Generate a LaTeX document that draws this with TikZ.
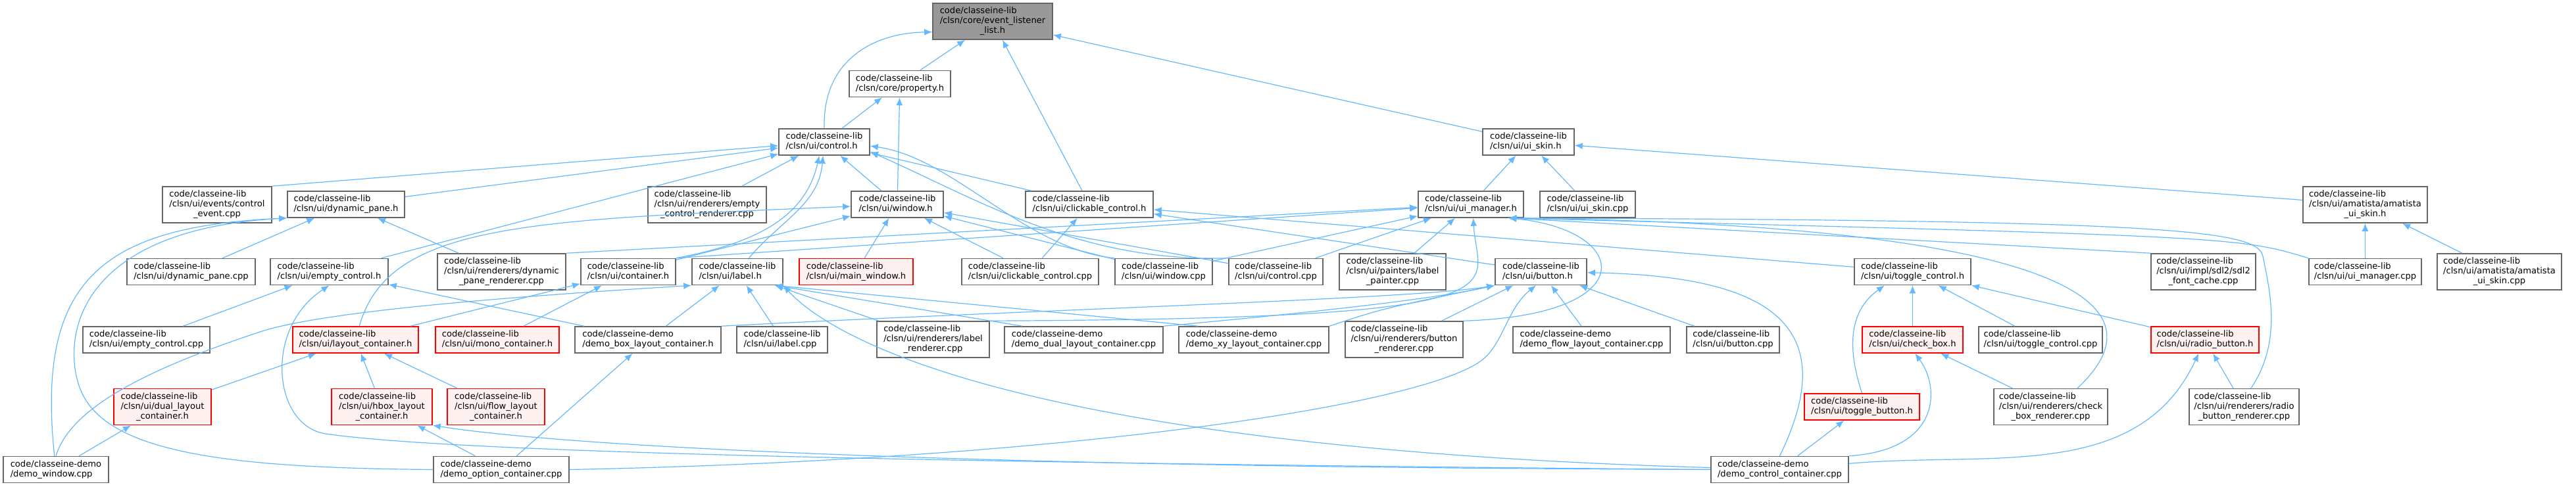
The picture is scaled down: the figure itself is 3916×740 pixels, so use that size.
\documentclass[tikz,border=0pt]{standalone}
\usepackage{fontspec}
\setmainfont{DejaVu Sans}
\usetikzlibrary{arrows.meta}
\definecolor{EdgeBlue}{HTML}{63B8FF}
\definecolor{NodeGrey}{HTML}{666666}
\definecolor{RootFill}{HTML}{999999}
\definecolor{TruncFill}{HTML}{FFF0F0}
\newcommand{\clib}{code/classeine-lib}
\newcommand{\cdemo}{code/classeine-demo}
\newcommand{\ptwo}[2]{\begin{tabular}{@{}l@{}}#1\\#2\end{tabular}}
\newcommand{\pthree}[3]{\begin{tabular}{@{}l@{}}#1\\#2\\\multicolumn{1}{@{}c@{}}{#3}\end{tabular}}
\tikzset{
  file/.style={draw=NodeGrey, line width=1.6pt, fill=white, inner sep=0pt,
    minimum height=40pt, font=\fontsize{13.1}{15}\selectfont},
  file3/.style={file, minimum height=55pt},
  trunc/.style={draw=red, fill=TruncFill},
  root/.style={fill=RootFill},
  dep/.style={-{Latex[length=12pt,width=10pt]}, draw=EdgeBlue, line width=1.2pt},
}
\begin{document}
\begin{tikzpicture}[x=1pt, y=1pt]
  \useasboundingbox (0,0) rectangle (3916,-740);
  % top ranks
  \node[file3, root, minimum width=182pt] (listener) at (1509,-32.5) {\pthree{\clib}{/clsn/core/event\_listener}{\_list.h}};
  \node[file, minimum width=154pt] (propertyh) at (1368,-127.5) {\ptwo{\clib}{/clsn/core/property.h}};
  \node[file, minimum width=138pt] (controlh) at (1253,-216) {\ptwo{\clib}{/clsn/ui/control.h}};
  \node[file, minimum width=139pt] (uiskinh) at (2323.5,-216) {\ptwo{\clib}{/clsn/ui/ui\_skin.h}};
  % rank 3
  \node[file3, minimum width=166pt] (ctrlevent) at (330,-311.5) {\pthree{\clib}{/clsn/ui/events/control}{\_event.cpp}};
  \node[file, minimum width=178pt] (dynpaneh) at (526,-311) {\ptwo{\clib}{/clsn/ui/dynamic\_pane.h}};
  \node[file3, minimum width=180pt] (emptyrend) at (1075,-311.5) {\pthree{\clib}{/clsn/ui/renderers/empty}{\_control\_renderer.cpp}};
  \node[file, minimum width=140pt] (windowh) at (1364,-311) {\ptwo{\clib}{/clsn/ui/window.h}};
  \node[file, minimum width=194pt] (clickh) at (1656,-311) {\ptwo{\clib}{/clsn/ui/clickable\_control.h}};
  \node[file, minimum width=160pt] (uimgrh) at (2236,-311) {\ptwo{\clib}{/clsn/ui/ui\_manager.h}};
  \node[file, minimum width=145pt] (uiskincpp) at (2413.5,-311) {\ptwo{\clib}{/clsn/ui/ui\_skin.cpp}};
  \node[file3, minimum width=189pt] (amatskinh) at (3595.5,-311.5) {\pthree{\clib}{/clsn/ui/amatista/amatista}{\_ui\_skin.h}};
  % rank 4
  \node[file, minimum width=195pt] (dynpanecpp) at (290.5,-413.5) {\ptwo{\clib}{/clsn/ui/dynamic\_pane.cpp}};
  \node[file, minimum width=179pt] (emptyctrlh) at (500.5,-413.5) {\ptwo{\clib}{/clsn/ui/empty\_control.h}};
  \node[file3, minimum width=195pt] (dynpanerend) at (762.5,-413.5) {\pthree{\clib}{/clsn/ui/renderers/dynamic}{\_pane\_renderer.cpp}};
  \node[file, minimum width=144pt] (containerh) at (955,-413.5) {\ptwo{\clib}{/clsn/ui/container.h}};
  \node[file, minimum width=138pt] (labelh) at (1121,-413.5) {\ptwo{\clib}{/clsn/ui/label.h}};
  \node[file, trunc, minimum width=173pt] (mainwinh) at (1301.5,-413.5) {\ptwo{\clib}{/clsn/ui/main\_window.h}};
  \node[file, minimum width=208pt] (clickcpp) at (1566,-413.5) {\ptwo{\clib}{/clsn/ui/clickable\_control.cpp}};
  \node[file, minimum width=148pt] (windowcpp) at (1769,-413.5) {\ptwo{\clib}{/clsn/ui/window.cpp}};
  \node[file, minimum width=143pt] (controlcpp) at (1939.5,-413.5) {\ptwo{\clib}{/clsn/ui/control.cpp}};
  \node[file3, minimum width=162pt] (labelpaint) at (2117,-413.5) {\pthree{\clib}{/clsn/ui/painters/label}{\_painter.cpp}};
  \node[file, minimum width=139pt] (buttonh) at (2342.5,-413.5) {\ptwo{\clib}{/clsn/ui/button.h}};
  \node[file, minimum width=177pt] (togglectrlh) at (2907.5,-413.5) {\ptwo{\clib}{/clsn/ui/toggle\_control.h}};
  \node[file3, minimum width=159pt] (fontcache) at (3349.5,-413.5) {\pthree{\clib}{/clsn/ui/impl/sdl2/sdl2}{\_font\_cache.cpp}};
  \node[file, minimum width=171pt] (uimgrcpp) at (3595.5,-413.5) {\ptwo{\clib}{/clsn/ui/ui\_manager.cpp}};
  \node[file3, minimum width=189pt] (amatcpp) at (3799.5,-413.5) {\pthree{\clib}{/clsn/ui/amatista/amatista}{\_ui\_skin.cpp}};
  % rank 5
  \node[file, minimum width=193pt] (emptycpp) at (222.5,-517) {\ptwo{\clib}{/clsn/ui/empty\_control.cpp}};
  \node[file, trunc, minimum width=191pt] (layouth) at (540.5,-517) {\ptwo{\clib}{/clsn/ui/layout\_container.h}};
  \node[file, trunc, minimum width=188pt] (monoh) at (756,-517) {\ptwo{\clib}{/clsn/ui/mono\_container.h}};
  \node[file, minimum width=222pt] (demobox) at (985,-517) {\ptwo{\cdemo}{/demo\_box\_layout\_container.h}};
  \node[file, minimum width=138pt] (labelcpp) at (1189,-517) {\ptwo{\clib}{/clsn/ui/label.cpp}};
  \node[file3, minimum width=171pt] (labelrend) at (1418.5,-516.5) {\pthree{\clib}{/clsn/ui/renderers/label}{\_renderer.cpp}};
  \node[file, minimum width=241pt] (demodual) at (1647.5,-517) {\ptwo{\cdemo}{/demo\_dual\_layout\_container.cpp}};
  \node[file, minimum width=228pt] (demoxy) at (1906,-517) {\ptwo{\cdemo}{/demo\_xy\_layout\_container.cpp}};
  \node[file3, minimum width=179pt] (buttonrend) at (2134.5,-516.5) {\pthree{\clib}{/clsn/ui/renderers/button}{\_renderer.cpp}};
  \node[file, minimum width=239pt] (demoflow) at (2419.5,-517) {\ptwo{\cdemo}{/demo\_flow\_layout\_container.cpp}};
  \node[file, minimum width=141pt] (buttoncpp) at (2634.5,-517) {\ptwo{\clib}{/clsn/ui/button.cpp}};
  \node[file, trunc, minimum width=153pt] (checkboxh) at (2907.5,-517) {\ptwo{\clib}{/clsn/ui/check\_box.h}};
  \node[file, minimum width=188pt] (togglecpp) at (3102,-517) {\ptwo{\clib}{/clsn/ui/toggle\_control.cpp}};
  \node[file, trunc, minimum width=164pt] (radioh) at (3352,-517) {\ptwo{\clib}{/clsn/ui/radio\_button.h}};
  % rank 6
  \node[file3, trunc, minimum width=148pt] (dualh) at (247,-619) {\pthree{\clib}{/clsn/ui/dual\_layout}{\_container.h}};
  \node[file3, trunc, minimum width=153pt] (hboxh) at (580.5,-619) {\pthree{\clib}{/clsn/ui/hbox\_layout}{\_container.h}};
  \node[file3, trunc, minimum width=148pt] (flowh) at (754,-619) {\pthree{\clib}{/clsn/ui/flow\_layout}{\_container.h}};
  \node[file, trunc, minimum width=175pt] (togglebtnh) at (2830.5,-619) {\ptwo{\clib}{/clsn/ui/toggle\_button.h}};
  \node[file3, minimum width=173pt] (checkrend) at (3117.5,-619) {\pthree{\clib}{/clsn/ui/renderers/check}{\_box\_renderer.cpp}};
  \node[file3, minimum width=167pt] (radiorend) at (3411.5,-619) {\pthree{\clib}{/clsn/ui/renderers/radio}{\_button\_renderer.cpp}};
  % rank 7
  \node[file, minimum width=160pt] (demowin) at (85,-714.5) {\ptwo{\cdemo}{/demo\_window.cpp}};
  \node[file, minimum width=206pt] (demoopt) at (762,-714.5) {\ptwo{\cdemo}{/demo\_option\_container.cpp}};
  \node[file, minimum width=209pt] (democtrl) at (2705.5,-714.5) {\ptwo{\cdemo}{/demo\_control\_container.cpp}};
  % bends of the long connectors
  \coordinate (optbend) at (122,-592);
  \coordinate (winbend) at (395,-505);
  \coordinate (ctrlbend) at (495,-660);
  \coordinate (btnbend) at (2250,-550);
  \coordinate (radiobend) at (3440,-390);

  % event_listener_list.h, property.h
  \draw[dep] (propertyh) -- (listener);
  \draw[dep] (controlh.north) .. controls (1250,-90) and (1330,-50) .. (listener.190);
  \draw[dep] (clickh) -- (listener);
  \draw[dep] (uiskinh) -- (listener);
  \draw[dep] (controlh) -- (propertyh);
  \draw[dep] (windowh) -- (propertyh);
  % control.h
  \draw[dep] (ctrlevent.north east) -- (controlh);
  \draw[dep] (dynpaneh) -- (controlh);
  \draw[dep] (emptyctrlh) -- (controlh);
  \draw[dep] (emptyrend) -- (controlh);
  \draw[dep] (containerh.north east) .. controls (1150,-370) and (1225,-330) .. (controlh.-110);
  \draw[dep] (labelh) to[out=50, in=-95] (controlh);
  \draw[dep] (windowh) -- (controlh);
  \draw[dep] (clickh) -- (controlh);
  \draw[dep] (windowcpp.north west) .. controls (1560,-380) and (1450,-240) .. (controlh.-5);
  \draw[dep] (controlcpp.north west) .. controls (1640,-400) and (1480,-300) .. (controlh.-12);
  % ui_skin.h
  \draw[dep] (uimgrh) -- (uiskinh);
  \draw[dep] (uiskincpp) -- (uiskinh);
  \draw[dep] (amatskinh) -- (uiskinh);
  \draw[dep] (uimgrcpp) -- (amatskinh);
  \draw[dep] (amatcpp) -- (amatskinh);
  % dynamic_pane.h
  \draw[dep] (dynpanecpp) -- (dynpaneh);
  \draw[dep] (dynpanerend) -- (dynpaneh);
  \draw[dep] (demowin) .. controls (55,-430) and (150,-345) .. (dynpaneh.south west);
  \draw[dep] (demoopt.west) .. controls (350,-712) and (160,-690) .. (optbend)
    .. controls (94,-520) and (110,-350) .. (dynpaneh.south west);
  % window.h
  \draw[dep] (mainwinh) -- (windowh);
  \draw[dep] (containerh) -- (windowh);
  \draw[dep] (layouth) .. controls (590,-340) and (800,-335) .. (windowh);
  \draw[dep] (clickcpp) -- (windowh);
  \draw[dep] (windowcpp) -- (windowh);
  \draw[dep] (controlcpp) -- (windowh);
  % clickable_control.h
  \draw[dep] (clickcpp) -- (clickh);
  \draw[dep] (buttonh) -- (clickh);
  \draw[dep] (togglectrlh) -- (clickh);
  % ui_manager.h
  \draw[dep] (containerh.north east) -- (uimgrh);
  \draw[dep] (dynpanerend.north east) -- (uimgrh);
  \draw[dep] (windowcpp) -- (uimgrh);
  \draw[dep] (controlcpp) -- (uimgrh);
  \draw[dep] (labelpaint) -- (uimgrh);
  \draw[dep] (labelrend.north east) .. controls (2350,-485) and (2245,-440) .. (uimgrh.-80);
  \draw[dep] (buttonrend.north east) .. controls (2500,-480) and (2480,-350) .. (uimgrh.-20);
  \draw[dep] (fontcache.north west) -- (uimgrh.-20);
  \draw[dep] (uimgrcpp.north west) .. controls (3400,-360) .. (uimgrh.-20);
  \draw[dep] (checkrend.35) .. controls (3330,-430) and (3000,-340) .. (uimgrh.-20);
  \draw[dep] (radiorend.70) .. controls (3470,-520) and (3450,-440) .. (radiobend)
    .. controls (3432,-350) and (3300,-335) .. (uimgrh.-20);
  % empty_control.h, container.h
  \draw[dep] (emptycpp) -- (emptyctrlh);
  \draw[dep] (demobox) -- (emptyctrlh);
  \draw[dep] (democtrl.west) .. controls (1500,-705) and (700,-690) .. (ctrlbend)
    .. controls (415,-648) and (400,-500) .. (emptyctrlh.south);
  \draw[dep] (layouth) -- (containerh);
  \draw[dep] (monoh) -- (containerh);
  % label.h
  \draw[dep] (demobox) -- (labelh);
  \draw[dep] (labelcpp) -- (labelh);
  \draw[dep] (labelrend) -- (labelh.-20);
  \draw[dep] ([xshift=28pt]demodual.north west) -- (labelh.-20);
  \draw[dep] ([xshift=30pt]demoxy.north west) -- (labelh.-20);
  \draw[dep] (demowin.north) .. controls (110,-610) and (260,-550) .. (winbend)
    .. controls (495,-472) and (800,-450) .. (labelh.south west);
  \draw[dep] (democtrl) .. controls (1500,-680) and (1250,-500) .. (labelh.south east);
  % layout containers
  \draw[dep] (dualh) -- (layouth);
  \draw[dep] (hboxh) -- (layouth);
  \draw[dep] (flowh) -- (layouth);
  \draw[dep] (demowin) -- (dualh);
  \draw[dep] (demoopt) -- (hboxh);
  \draw[dep] (democtrl) .. controls (1600,-712) and (900,-685) .. (hboxh.south east);
  \draw[dep] (demoopt) -- (demobox);
  % button.h
  \draw[dep] (buttonrend) -- (buttonh);
  \draw[dep] (demoflow) -- (buttonh);
  \draw[dep] (buttoncpp) -- (buttonh);
  \draw[dep] (demobox.north east) .. controls (1600,-470) and (2150,-455) .. (buttonh.south west);
  \draw[dep] (demodual.north east) .. controls (2000,-475) and (2180,-455) .. (buttonh.south west);
  \draw[dep] (demoxy.north east) .. controls (2100,-470) .. (buttonh.south west);
  \draw[dep] (demoopt.east) .. controls (1600,-700) and (2150,-620) .. (btnbend)
    .. controls (2285,-526) and (2290,-470) .. (buttonh.-110);
  \draw[dep] (democtrl.north) .. controls (2800,-500) and (2700,-420) .. (buttonh);
  % toggle_control.h and below
  \draw[dep] (checkboxh) -- (togglectrlh);
  \draw[dep] (togglecpp) -- (togglectrlh);
  \draw[dep] (radioh) -- (togglectrlh);
  \draw[dep] (togglebtnh.north) .. controls (2805,-520) and (2815,-470) .. (togglectrlh.-154);
  \draw[dep] (checkrend) -- (checkboxh);
  \draw[dep] (radiorend) -- (radioh);
  \draw[dep] (democtrl) -- (togglebtnh);
  \draw[dep] (democtrl.north east) .. controls (2950,-685) and (2950,-590) .. (checkboxh.-80);
  \draw[dep] (democtrl) to[out=5, in=-115] (radioh);
\end{tikzpicture}
\end{document}
